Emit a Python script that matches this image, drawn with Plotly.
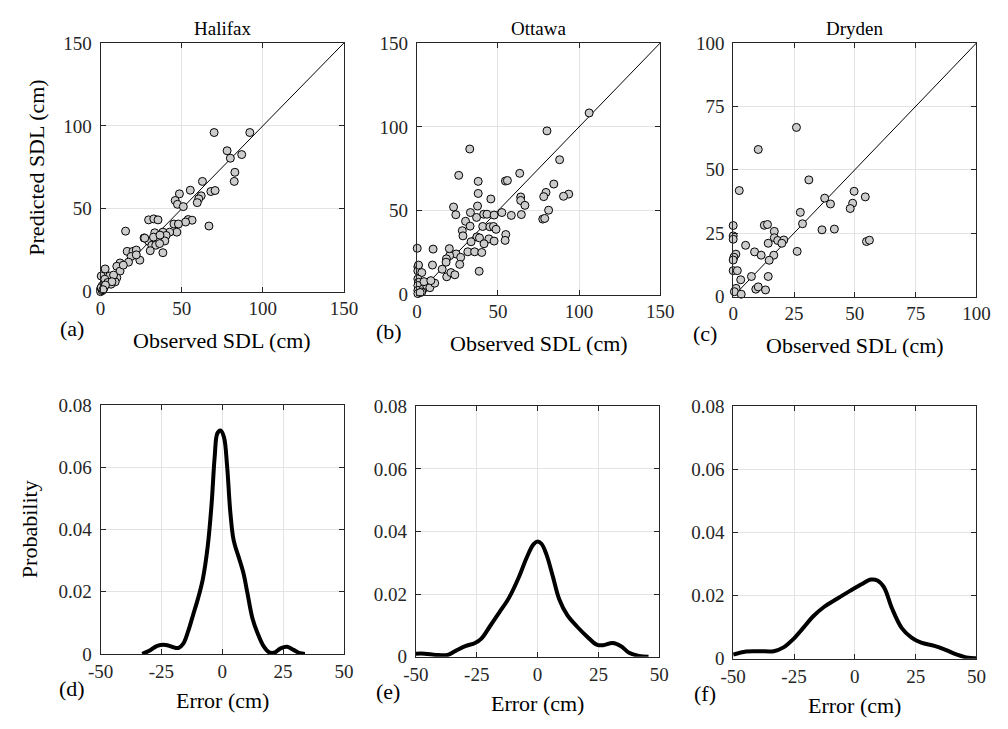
import plotly.graph_objects as go

# ---------------- data ----------------
HAL_OBS = [70, 92, 78, 80, 87, 82.8, 82.4, 62.8, 55.3, 48.6, 68, 70.6, 62, 60.5, 46, 47.4, 51, 59.6,
           29.6, 32.8, 35.4, 54, 56.4, 52.4, 45.2, 48, 47, 42.6, 66.8, 15.4, 33.4, 38.4, 40.4, 26.8,
           29.6, 32.6, 39.6, 31.6, 34, 36.4, 30.6, 38.4, 16.4, 20, 22, 18.8, 24.2, 17.2, 12, 10, 12,
           2.8, 5.6, 10, 0.4, 2.6, 9, 4.4, 6.4, 1, 0, 0, 1, 2, 0.4, 22, 36.6, 27.2, 14, 8, 7, 3, 1.5]
HAL_PRED = [96, 96, 85, 80.5, 82.7, 72, 66.5, 66.5, 61.2, 59, 60.4, 61, 57.8, 56, 55, 52.7, 51.3, 53.7,
            43.3, 43.9, 43.3, 43.5, 43.1, 42, 40.8, 40.8, 35.9, 35.9, 39.6, 36.5, 35.5, 35.9, 33.9, 32.4,
            30.4, 32.9, 30.6, 28, 28, 29, 24.7, 23.5, 24.3, 24.3, 25.1, 21.2, 19, 17.8, 17.3, 15.3, 12.4,
            13.7, 9.4, 8.4, 9.4, 7.5, 5.9, 5.5, 4.5, 3.5, 1.6, 0, 0.6, 2, 2.5, 22.2, 34.1, 32.3, 16, 10, 6, 4, 1.2]

OTT_OBS = [106.2, 80.2, 32.6, 88, 25.8, 63.4, 37.8, 54.6, 55.8, 84.4, 37.8, 79.6, 78.2, 93.6, 90.4, 45.6,
           64, 64, 66.6, 37.4, 22.6, 33, 24, 36.8, 41.2, 43.2, 47.6, 52.4, 58.2, 64.4, 81.2, 77.6, 78.8,
           30, 32.8, 28, 28.4, 40.6, 45, 47.2, 48.8, 54.8, 54.4, 44.4, 47.6, 37, 38.6, 33.4, 41.4, 31.4,
           35.6, 40, 24.2, 27, 26.4, 20.2, 18.2, 18, 20, 10, 15.6, 18.4, 21, 23.4, 38.4, 9.6, 0.2, 0.6,
           0.6, 1, 3, 0.6, 1, 0.6, 0.6, 0.6, 4, 6, 8, 4.4, 11, 8.6, 3, 2]
OTT_PRED = [108.3, 97.6, 86.8, 80.4, 71.1, 72.3, 67.5, 67.7, 68, 65.9, 60.3, 60.9, 58.4, 59.9, 58.6, 57,
            58.2, 56.1, 53.2, 52.8, 52.2, 48.9, 47.6, 46, 47.9, 47.9, 47.4, 48.9, 47.2, 47.7, 50.3, 45, 45.4,
            43.7, 40.8, 38.1, 35, 40.6, 40.4, 40.6, 38.9, 35.8, 32.3, 33.2, 31.9, 34.4, 33.8, 31.5, 30.3, 25.5,
            25.5, 25.1, 24.2, 22.2, 18, 23.2, 21.3, 19.3, 27.4, 27.1, 15.1, 10.6, 13.1, 11.8, 13.9, 17.6, 27.6, 16.6,
            14.1, 17.6, 13.1, 9.3, 7.3, 5.4, 2.5, 0.6, 3.5, 5.4, 4.1, 7.7, 6.8, 8.3, 1.5, 1.2]

DRY_OBS = [26, 10.3, 31.1, 2.5, 37.6, 40, 49.7, 49.1, 48.1, 54.3, 27.6, 28.5, 36.5, 41.6, 54.8, 56,
           12.8, 14.1, 0, 0, 0, 16.9, 16.9, 18.3, 20.8, 20, 14.4, 5.1, 8.8, 11.5, 16.7, 26.3, 1.1, 0.3,
           0, 14.8, 0, 1.7, 3.1, 7.5, 14.4, 1.2, 0.5, 3.3, 9.3, 10.3, 13.3]
DRY_PRED = [66.7, 58, 46, 41.8, 38.8, 36.5, 41.5, 36.8, 34.7, 39.3, 33.2, 28.7, 26.3, 26.6, 21.7, 22.2,
            28.1, 28.4, 28, 23.9, 22.6, 25.7, 23.2, 22.1, 22.3, 21, 21, 20.2, 17.6, 16.3, 16.3, 17.8, 16.7, 15.5,
            14.4, 14.3, 10.2, 10.2, 6.6, 7.9, 7.9, 3.2, 1.9, 0.9, 2.9, 3.8, 2.6]

HAL_ERR = [-32.9, -30, -26.7, -23.3, -20.7, -18, -16, -14, -12, -10, -8, -6, -4.4, -3.1, -2, -0.7, 0.7,
           2, 3.3, 4.7, 6.7, 8.7, 10.3, 12.4, 14.7, 16.9, 19.3, 21.7, 24, 26.7, 29.3, 32, 34]
HAL_PROB = [0, 0.001, 0.0026, 0.0029, 0.0023, 0.0019, 0.0033, 0.0073, 0.0125, 0.0177, 0.024, 0.0344,
            0.048, 0.0635, 0.071, 0.0719, 0.0698, 0.0604, 0.0458, 0.0365, 0.0313, 0.026, 0.0198, 0.0115,
            0.0063, 0.0026, 0.0005, 0.0005, 0.0018, 0.0023, 0.0013, 0.0002, 0]

OTT_ERR = [-50, -46.4, -41.7, -37, -33.7, -29.7, -25.7, -23.1, -19.7, -15.7, -11.7, -7.7, -4.4, -1.7, 0,
           1.6, 3.6, 6.3, 8.9, 12.3, 16.3, 20.3, 24.3, 26.9, 30.9, 34.3, 37.6, 41.6, 45.6]
OTT_PROB = [0.001, 0.001, 0.0006, 0.0006, 0.0019, 0.0034, 0.0044, 0.0058, 0.0096, 0.0142, 0.0189, 0.0254,
            0.0318, 0.0359, 0.0368, 0.0361, 0.0328, 0.0256, 0.0184, 0.0132, 0.0096, 0.0065, 0.0039, 0.0037,
            0.0044, 0.0034, 0.0013, 0.0003, 0]

DRY_ERR = [-50, -44.7, -39.3, -33.3, -29.3, -25.3, -21.3, -17.3, -12.7, -7.3, -2, 2.7, 6.7, 9.3, 12,
           15.3, 19.3, 23.3, 27.3, 32.7, 37.3, 42, 46.7, 50]
DRY_PROB = [0.0013, 0.0023, 0.0024, 0.0024, 0.0036, 0.0062, 0.0097, 0.0133, 0.0164, 0.019, 0.0215,
            0.0236, 0.0251, 0.0248, 0.0226, 0.0159, 0.0097, 0.0067, 0.0051, 0.0041, 0.0028, 0.0013,
            0.0003, 0.0002]

SITES = ["Halifax", "Ottawa", "Dryden"]
SCATTER_MAX = [150, 150, 100]
SCATTER_TICKS = [[0, 50, 100, 150], [0, 50, 100, 150], [0, 25, 50, 75, 100]]
ERR_TICKS = [-50, -25, 0, 25, 50]
ERR_TICKTEXT = ["-50", "-25", "0", "25", "50"]
PROB_TICKS = [0, 0.02, 0.04, 0.06, 0.08]
PROB_TICKTEXT = ["0", "0.02", "0.04", "0.06", "0.08"]
PANEL_LABELS = ["(a)", "(b)", "(c)", "(d)", "(e)", "(f)"]

# ---------------- layout helpers (pixel geometry) ----------------
W, H = 1008, 729
FONT = "Times New Roman, Liberation Serif, serif"
TICK_SIZE = 19
TITLE_SIZE = 22

def fx(p):
    return p / W

def fy(p):
    return 1 - p / H

# panel boxes: (left, right, top, bottom) in pixels
BOXES = [
    (90, 340, 34, 290),
    (415, 665, 34, 293),
    (740, 990, 34, 295),
    (90, 340, 407, 663),
    (414, 664, 408, 666),
    (740, 990, 408, 668),
]

fig = go.Figure()

scat = [(HAL_OBS, HAL_PRED), (OTT_OBS, OTT_PRED), (DRY_OBS, DRY_PRED)]
dens = [(HAL_ERR, HAL_PROB), (OTT_ERR, OTT_PROB), (DRY_ERR, DRY_PROB)]

for i in range(3):
    xa = "x" if i == 0 else f"x{i+1}"
    ya = "y" if i == 0 else f"y{i+1}"
    mx = SCATTER_MAX[i]
    fig.add_trace(go.Scatter(x=[0, mx], y=[0, mx], mode="lines",
                             line=dict(color="black", width=1), xaxis=xa, yaxis=ya,
                             showlegend=False, hoverinfo="skip"))
    fig.add_trace(go.Scatter(x=scat[i][0], y=scat[i][1], mode="markers",
                             marker=dict(size=8, color="#cccccc", line=dict(color="black", width=1)),
                             xaxis=xa, yaxis=ya, showlegend=False, cliponaxis=False))
for i in range(3):
    k = i + 4
    xa, ya = f"x{k}", f"y{k}"
    fig.add_trace(go.Scatter(x=dens[i][0], y=dens[i][1], mode="lines", line_shape="spline",
                             line=dict(color="black", width=4), xaxis=xa, yaxis=ya,
                             showlegend=False, cliponaxis=False))

axis_common = dict(showgrid=True, gridcolor="#e3e3e3", gridwidth=1, zeroline=False,
                   showline=True, linecolor="#262626", linewidth=1, mirror="ticks",
                   ticks="inside", ticklen=5, tickcolor="#262626",
                   tickfont=dict(family=FONT, size=TICK_SIZE, color="#262626"))

layout = {}
for k in range(6):
    l, r, t, b = BOXES[k]
    xn = "xaxis" if k == 0 else f"xaxis{k+1}"
    yn = "yaxis" if k == 0 else f"yaxis{k+1}"
    anchor_x = "y" if k == 0 else f"y{k+1}"
    anchor_y = "x" if k == 0 else f"x{k+1}"
    if k < 3:
        mx = SCATTER_MAX[k]
        xd = dict(range=[0, mx], tickvals=SCATTER_TICKS[k], ticktext=[str(v) for v in SCATTER_TICKS[k]])
        yd = dict(range=[0, mx], tickvals=SCATTER_TICKS[k], ticktext=[str(v) for v in SCATTER_TICKS[k]])
    else:
        xd = dict(range=[-50, 50], tickvals=ERR_TICKS, ticktext=ERR_TICKTEXT)
        yd = dict(range=[0, 0.08], tickvals=PROB_TICKS, ticktext=PROB_TICKTEXT)
    layout[xn] = dict(domain=[fx(l), fx(r)], anchor=anchor_x, **xd, **axis_common)
    layout[yn] = dict(domain=[fy(b), fy(t)], anchor=anchor_y, ticklabelstandoff=4, **yd, **axis_common)

annotations = []
def txt(text, x, y, size, angle=0):
    annotations.append(dict(text=text, x=fx(x), y=fy(y), xref="paper", yref="paper",
                            showarrow=False, xanchor="center", yanchor="middle", textangle=angle,
                            font=dict(family=FONT, size=size, color="black")))

for i in range(3):
    l, r, t, b = BOXES[i]
    txt(SITES[i], (l + r) / 2, 19, TICK_SIZE)
    txt("Observed SDL (cm)", (l + r) / 2, b + 50, TITLE_SIZE)
    txt(PANEL_LABELS[i], l - 29, b + 38, TITLE_SIZE)
for i in range(3):
    l, r, t, b = BOXES[i + 3]
    txt("Error (cm)", (l + r) / 2, b + 48, TITLE_SIZE)
    txt(PANEL_LABELS[i + 3], l - 29, b + 36, TITLE_SIZE)

txt("Predicted SDL (cm)", 24, (BOXES[0][2] + BOXES[0][3]) / 2, TITLE_SIZE, -90)
txt("Probability", 17, (BOXES[3][2] + BOXES[3][3]) / 2, TITLE_SIZE, -90)

fig.update_layout(width=W, height=H, margin=dict(l=0, r=0, t=0, b=0),
                  paper_bgcolor="white", plot_bgcolor="white",
                  font=dict(family=FONT), annotations=annotations, **layout)

fig.write_html("out.html")
